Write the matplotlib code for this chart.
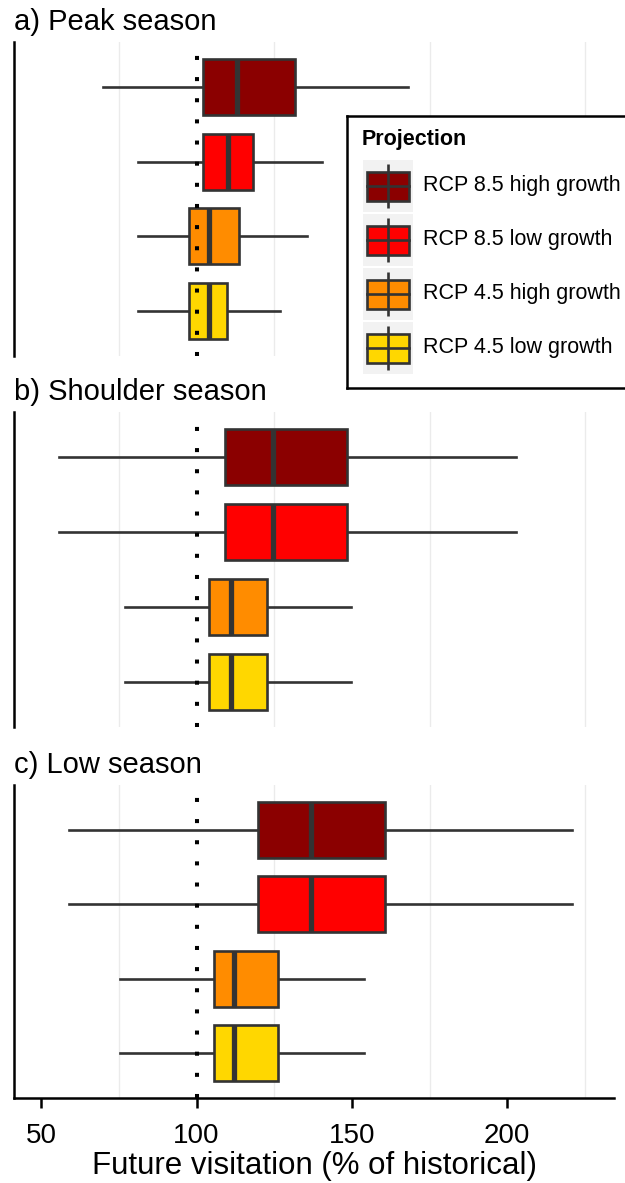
import matplotlib.pyplot as plt
from matplotlib.patches import Rectangle

plt.rcParams['font.family'] = ['Liberation Sans', 'DejaVu Sans']

projections = ['RCP 8.5 high growth', 'RCP 8.5 low growth',
               'RCP 4.5 high growth', 'RCP 4.5 low growth']
colors = ['#8B0000', '#FF0000', '#FF8C00', '#FFD700']
seasons = ['a) Peak season', 'b) Shoulder season', 'c) Low season']

# box stats per projection (whisker low, q1, median, q3, whisker high)
peak_lo = [70, 81, 81, 81]
peak_q1 = [102, 102, 97.6, 97.6]
peak_med = [113, 110, 104, 104]
peak_q3 = [131.8, 118, 113.6, 109.7]
peak_hi = [168, 140.3, 135.5, 126.7]

shoulder_lo = [55.7, 55.7, 76.8, 76.8]
shoulder_q1 = [109.3, 109.3, 103.9, 103.9]
shoulder_med = [124.7, 124.7, 111, 111]
shoulder_q3 = [148.5, 148.3, 122.6, 122.6]
shoulder_hi = [203, 203, 149.8, 149.8]

low_lo = [59, 59, 75.4, 75.4]
low_q1 = [119.8, 119.8, 105.6, 105.6]
low_med = [136.9, 136.9, 112.1, 112.1]
low_q3 = [160.7, 160.7, 126.2, 126.2]
low_hi = [220.9, 220.9, 153.9, 153.9]

panels = [
    (peak_lo, peak_q1, peak_med, peak_q3, peak_hi),
    (shoulder_lo, shoulder_q1, shoulder_med, shoulder_q3, shoulder_hi),
    (low_lo, low_q1, low_med, low_q3, low_hi),
]

W, H = 625, 1183
fig = plt.figure(figsize=(W / 100, H / 100), dpi=100)


def px_axes(left, top, right, bottom):
    return fig.add_axes([left / W, 1 - bottom / H, (right - left) / W, (bottom - top) / H])


rects = [(14, 42, 614, 356), (14, 412, 614, 727), (14, 785, 614, 1098)]
line_col = '#333333'

for k, (stats_lists, rect, title) in enumerate(zip(panels, rects, seasons)):
    ax = px_axes(*rect)
    lo, q1, med, q3, hi = stats_lists
    stats = [dict(whislo=lo[i], q1=q1[i], med=med[i], q3=q3[i], whishi=hi[i])
             for i in range(len(projections))]
    positions = [4, 3, 2, 1]
    bp = ax.bxp(stats, positions=positions, widths=0.75, orientation='horizontal',
                showcaps=False, showfliers=False, patch_artist=True,
                boxprops=dict(edgecolor=line_col, linewidth=1.9),
                whiskerprops=dict(color=line_col, linewidth=1.9),
                medianprops=dict(color=line_col, linewidth=3.8, solid_capstyle='butt'))
    for patch, c in zip(bp['boxes'], colors):
        patch.set_facecolor(c)
        patch.set_zorder(3)
    for m in bp['medians']:
        m.set_zorder(4)

    ax.axvline(100, color='black', linestyle=(0, (1, 4.25)), linewidth=2.9, zorder=6)

    ax.set_xlim(41.2, 234.4)
    ax.set_ylim(0.4, 4.6)
    ax.set_yticks([])
    ax.set_xticks([75, 125, 175, 225], minor=True)
    ax.grid(which='minor', axis='x', color='#EBEBEB', linewidth=1, zorder=0)
    ax.set_axisbelow(True)
    for s in ['top', 'right']:
        ax.spines[s].set_visible(False)
    ax.spines['left'].set_linewidth(1.8)
    ax.tick_params(axis='x', which='minor', length=0)
    if k < 2:
        ax.spines['bottom'].set_visible(False)
        ax.set_xticks([])
        ax.tick_params(axis='x', which='both', length=0, labelbottom=False)
    else:
        ax.spines['bottom'].set_linewidth(1.8)
        ax.set_xticks([50, 100, 150, 200])
        ax.tick_params(axis='x', which='major', length=7.2, width=1.8,
                       labelsize=20, pad=10.5, color='black')

    fig.text(rect[0] / W, 1 - (rect[1] - 20) / H, title, fontsize=21,
             ha='left', va='center')

fig.text(314 / W, 1 - 1166 / H, 'Future visitation (% of historical)',
         fontsize=22.5, ha='center', va='center')

# legend
leg = px_axes(347, 116, 645, 388)
leg.set_zorder(10)
leg.set_facecolor('white')
leg.set_xlim(0, 298)
leg.set_ylim(272, 0)
leg.set_xticks([])
leg.set_yticks([])
for s in leg.spines.values():
    s.set_linewidth(1.8)
    s.set_color('black')
leg.text(15, 23, 'Projection', fontsize=15.5, fontweight='bold', va='center', ha='left')
for i, (lab, c) in enumerate(zip(projections, colors)):
    cy = 70 + 54 * i
    leg.add_patch(Rectangle((16, cy - 26), 50, 52, facecolor='#F2F2F2', edgecolor='none'))
    leg.plot([41, 41], [cy - 22, cy + 22], color=line_col, lw=1.9, solid_capstyle='butt')
    leg.add_patch(Rectangle((20, cy - 14.5), 42, 29, facecolor=c, edgecolor=line_col, lw=1.9))
    leg.plot([20, 62], [cy, cy], color=line_col, lw=1.9)
    leg.text(76, cy, lab, fontsize=15.5, va='center', ha='left')

fig.savefig('out.png', dpi=100)
